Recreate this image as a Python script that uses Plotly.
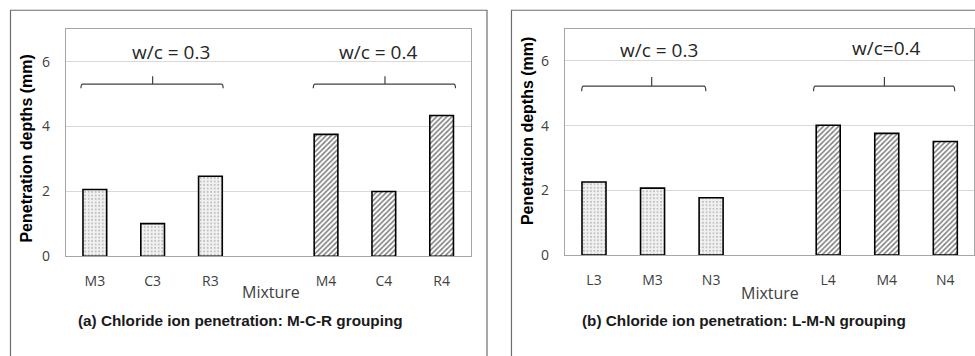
import plotly.graph_objects as go

# ---- data ----
cats_a = ["M3", "C3", "R3", " ", "M4", "C4", "R4"]
vals_a_03 = [2.06, 1.01, 2.47]
vals_a_04 = [3.76, 2.00, 4.34]
cats_b = ["L3", "M3", "N3", " ", "L4", "M4", "N4"]
vals_b_03 = [2.26, 2.07, 1.77]
vals_b_04 = [4.01, 3.76, 3.51]
group_labels_a = ["w/c = 0.3", "w/c = 0.4"]
group_labels_b = ["w/c = 0.3", "w/c=0.4"]
captions = ["(a) Chloride ion penetration: M-C-R grouping",
            "(b) Chloride ion penetration: L-M-N grouping"]
y_ticks = [0, 2, 4, 6]

W, H = 975, 356
def px(x): return min(1.0, x / W)
def py(y): return 1 - y / H

fig = go.Figure()

dot_pattern = dict(shape=".", fgcolor="#8a8a8a", bgcolor="#f2f2f2", size=3.5, solidity=0.25)
hatch_pattern = dict(shape="/", fgcolor="#000000", bgcolor="#ffffff", size=3.6, solidity=0.45)
line_style = dict(color="#000000", width=1.6)

def add_panel(cats, v3, v4, xa, ya):
    fig.add_trace(go.Bar(x=cats[:3], y=v3, width=0.41, xaxis=xa, yaxis=ya,
                         marker=dict(color="#f2f2f2", pattern=dot_pattern, line=line_style),
                         showlegend=False, hoverinfo="x+y"))
    fig.add_trace(go.Bar(x=cats[4:], y=v4, width=0.41, xaxis=xa, yaxis=ya,
                         marker=dict(color="#ffffff", pattern=hatch_pattern, line=line_style),
                         showlegend=False, hoverinfo="x+y"))

add_panel(cats_a, vals_a_03, vals_a_04, "x", "y")
add_panel(cats_b, vals_b_03, vals_b_04, "x2", "y2")

axis_font = dict(family="Open Sans, Liberation Sans, Arial", size=14, color="#404040")
common_x = dict(type="category", showline=True, mirror=True, linecolor="#a6a6a6", linewidth=1,
                showgrid=False, ticks="", tickfont=axis_font, ticklabelstandoff=12,
                fixedrange=True)
common_y = dict(range=[0, 7], tickvals=y_ticks, showline=True, mirror=True, linecolor="#a6a6a6",
                linewidth=1, showgrid=True, gridcolor="#d9d9d9", gridwidth=1, ticks="",
                tickfont=axis_font, zeroline=False, ticklabelstandoff=12)

fig.update_layout(
    width=W, height=H, margin=dict(l=0, r=0, t=0, b=0),
    paper_bgcolor="white", plot_bgcolor="white", barmode="overlay",
    xaxis=dict(domain=[px(66), px(471)], anchor="y", categoryorder="array", categoryarray=cats_a,
               range=[-0.5, 6.5], **common_x),
    yaxis=dict(domain=[py(263), py(30)], anchor="x", **common_y),
    xaxis2=dict(domain=[px(565.3), 1.0], anchor="y2", categoryorder="array", categoryarray=cats_b,
                range=[-0.5, 6.49], **common_x),
    yaxis2=dict(domain=[py(261.7), py(29.3)], anchor="x2", **common_y),
)

shapes = []
# outer panel boxes
shapes.append(dict(type="rect", xref="paper", yref="paper", x0=10.5 / W, x1=487.5 / W, y0=-0.2, y1=py(10.5),
                   line=dict(color="#6e6e6e", width=1.2), fillcolor="rgba(0,0,0,0)", layer="below"))
shapes.append(dict(type="rect", xref="paper", yref="paper", x0=512 / W, x1=1.2, y0=-0.2, y1=py(10.5),
                   line=dict(color="#6e6e6e", width=1.2), fillcolor="rgba(0,0,0,0)", layer="below"))

def bracket(xr, yr, x0, x1, xm, yh, ye, yt):
    return dict(type="path", xref=xr, yref=yr,
                path=f"M {x0},{ye} Q {x0},{yh} {x0+0.03},{yh} L {x1-0.03},{yh} Q {x1},{yh} {x1},{ye} "
                     f"M {xm},{yh} L {xm},{yt}",
                line=dict(color="#404040", width=1.2))

shapes.append(bracket("x", "y", -0.24, 2.22, 1.0, 5.31, 5.18, 5.55))
shapes.append(bracket("x", "y", 3.78, 6.24, 5.02, 5.31, 5.18, 5.55))
shapes.append(bracket("x2", "y2", -0.21, 1.91, 0.985, 5.22, 5.06, 5.50))
shapes.append(bracket("x2", "y2", 3.75, 6.16, 4.96, 5.22, 5.06, 5.50))
fig.update_layout(shapes=shapes)

grp_font = dict(family="Open Sans, Liberation Sans, Arial", size=19, color="#262626")
title_font = dict(family="Liberation Sans, Arial", size=16, color="#000000")
cap_font = dict(family="Liberation Sans Narrow, Arial Narrow, Liberation Sans", size=15.3, color="#1a1a1a")
mix_font = dict(family="Open Sans, Liberation Sans, Arial", size=16, color="#404040")

C = dict(showarrow=False, xanchor="center", yanchor="middle")
ann = []
ann.append(dict(xref="x", yref="y", x=1.31, y=6.29, text=group_labels_a[0], font=grp_font, **C))
ann.append(dict(xref="x", yref="y", x=4.905, y=6.29, text=group_labels_a[1], font=grp_font, **C))
ann.append(dict(xref="x2", yref="y2", x=1.116, y=6.34, text=group_labels_b[0], font=grp_font, **C))
ann.append(dict(xref="x2", yref="y2", x=4.99, y=6.41, text=group_labels_b[1], font=grp_font, **C))
# y titles
ann.append(dict(xref="paper", yref="paper", x=27 / W, y=py(152.5), text="<b>Penetration depths (mm)</b>",
                textangle=-90, font=title_font, **C))
ann.append(dict(xref="paper", yref="paper", x=528 / W, y=py(134), text="<b>Penetration depths (mm)</b>",
                textangle=-90, font=title_font, **C))
# x titles
ann.append(dict(xref="paper", yref="paper", x=271 / W, y=py(300), text="Mixture", font=mix_font, **C))
ann.append(dict(xref="paper", yref="paper", x=770.5 / W, y=py(301), text="Mixture", font=mix_font, **C))
# captions
ann.append(dict(xref="paper", yref="paper", x=241 / W, y=py(329), text="<b>" + captions[0] + "</b>",
                font=cap_font, **C))
ann.append(dict(xref="paper", yref="paper", x=744.7 / W, y=py(329), text="<b>" + captions[1] + "</b>",
                font=cap_font, **C))
fig.update_layout(annotations=ann)

fig.write_html("out.html")
